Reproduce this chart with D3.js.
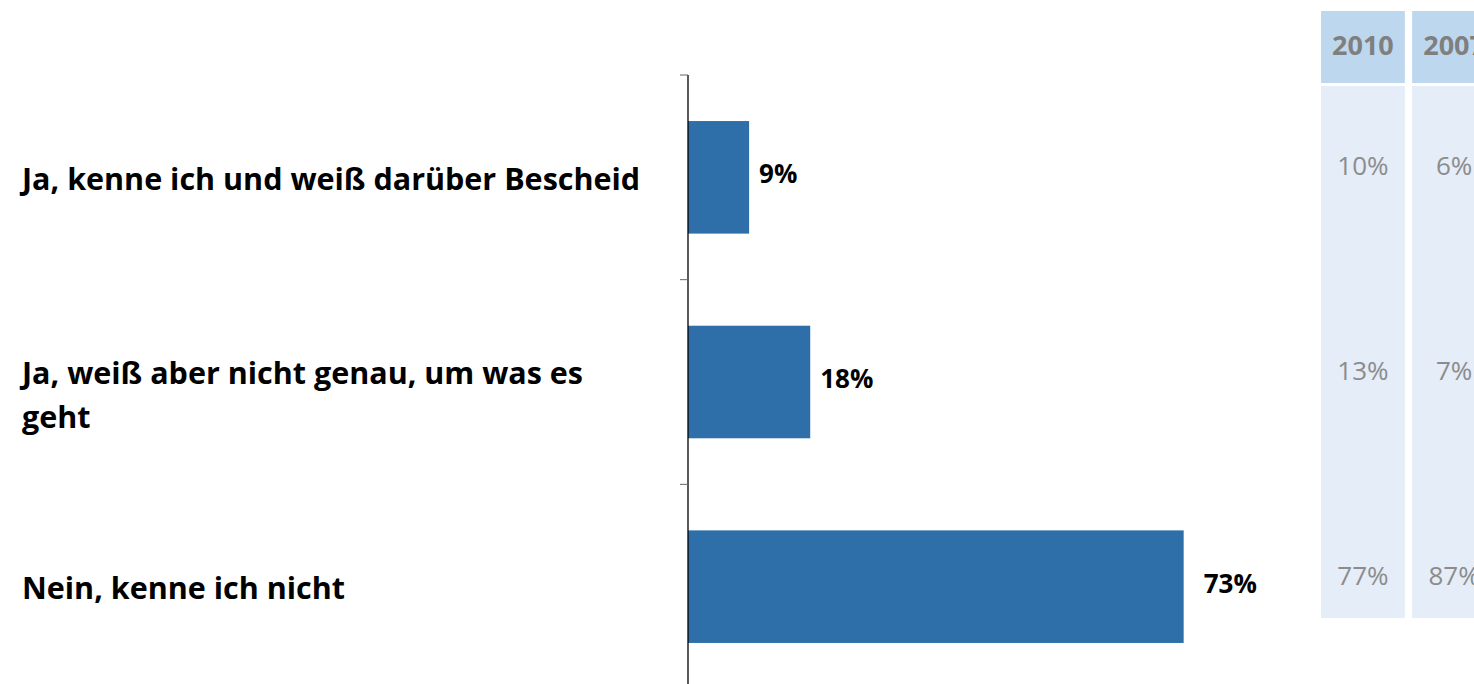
<!DOCTYPE html>
<html>
<head>
<meta charset="utf-8">
<script src="https://cdn.jsdelivr.net/npm/d3@7"></script>
<style>
  html, body { margin: 0; padding: 0; background: #fff; overflow: hidden; }
  svg { display: block; }
</style>
</head>
<body>
<svg id="chart" width="1474" height="684"></svg>
<script>
// Survey answers and their shares (current wave)
const categories = [
  "Ja, kenne ich und weiß darüber Bescheid",
  "Ja, weiß aber nicht genau, um was es geht",
  "Nein, kenne ich nicht"
];
// Wrapped label lines per category
const categoryLines = [
  ["Ja, kenne ich und weiß darüber Bescheid"],
  ["Ja, weiß aber nicht genau, um was es", "geht"],
  ["Nein, kenne ich nicht"]
];
const values = [9, 18, 73];

// Comparison table: earlier waves
const compareYears = ["2010", "2007"];
const compare2010 = ["10%", "13%", "77%"];
const compare2007 = ["6%", "7%", "87%"];

const svg = d3.select("#chart");
const fontFam = "'Open Sans', sans-serif";

const x = d3.scaleLinear().domain([0, 100]).range([688, 1367]);
const y = d3.scaleBand().domain(categories).range([75, 689]).paddingInner(0.45).paddingOuter(0.225);

// Bars
svg.append("g").selectAll("rect")
  .data(categories)
  .join("rect")
  .attr("x", x(0))
  .attr("y", d => y(d))
  .attr("width", (d, i) => x(values[i]) - x(0))
  .attr("height", y.bandwidth())
  .attr("fill", "#2E6FAA");

// Category axis (ticks between bands)
const bandStep = y.step();
const axisG = svg.append("g");
axisG.append("line")
  .attr("x1", x(0)).attr("x2", x(0))
  .attr("y1", 75).attr("y2", 684)
  .attr("stroke", "#000").attr("stroke-width", 1.3);
const tickYs = d3.range(categories.length).map(i => 75 + i * bandStep);
axisG.selectAll("line.tick")
  .data(tickYs)
  .join("line")
  .attr("class", "tick")
  .attr("x1", x(0) - 8).attr("x2", x(0))
  .attr("y1", d => d).attr("y2", d => d)
  .attr("stroke", "#666").attr("stroke-width", 1);

// Value labels
svg.append("g").selectAll("text")
  .data(categories)
  .join("text")
  .attr("x", (d, i) => x(values[i]) + (i === 2 ? 20 : 10))
  .attr("y", d => y(d) + y.bandwidth() / 2 - 3)
  .attr("dy", "0.35em")
  .attr("font-family", fontFam)
  .attr("font-weight", "bold")
  .attr("font-size", 26)
  .attr("fill", "#000")
  .text((d, i) => values[i] + "%");

// Category labels
const lineH = 44;
svg.append("g").selectAll("text")
  .data(categories)
  .join("text")
  .attr("font-family", fontFam)
  .attr("font-weight", "bold")
  .attr("font-size", 30.5)
  .attr("fill", "#000")
  .each(function(d, i) {
    const lines = categoryLines[i];
    const cy = y(d) + y.bandwidth() / 2;
    const sel = d3.select(this);
    lines.forEach((ln, k) => {
      sel.append("tspan")
        .attr("x", 22)
        .attr("y", cy + (k - (lines.length - 1) / 2) * lineH + (lines.length > 1 ? 13 : 2))
        .attr("dy", "0.35em")
        .text(ln);
    });
  });

// Comparison table
const colX = d3.scaleBand().domain(compareYears).range([1321, 1496]).paddingInner(0.08);
const colData = [compare2010, compare2007];
const tbl = svg.append("g");
tbl.selectAll("rect.head")
  .data(compareYears)
  .join("rect")
  .attr("class", "head")
  .attr("x", d => colX(d)).attr("y", 11)
  .attr("width", colX.bandwidth()).attr("height", 72)
  .attr("fill", "#BDD7EE");
tbl.selectAll("rect.body")
  .data(compareYears)
  .join("rect")
  .attr("class", "body")
  .attr("x", d => colX(d)).attr("y", 86)
  .attr("width", colX.bandwidth()).attr("height", 532)
  .attr("fill", "#E4EDF8");
tbl.selectAll("text.head")
  .data(compareYears)
  .join("text")
  .attr("class", "head")
  .attr("x", d => colX(d) + colX.bandwidth() / 2)
  .attr("y", 46).attr("dy", "0.35em")
  .attr("text-anchor", "middle")
  .attr("font-family", fontFam)
  .attr("font-weight", "bold")
  .attr("font-size", 27)
  .attr("fill", "#7F7F7F")
  .text(d => d);
compareYears.forEach((yr, c) => {
  tbl.selectAll("text.v" + c)
    .data(colData[c])
    .join("text")
    .attr("class", "v" + c)
    .attr("x", colX(yr) + colX.bandwidth() / 2)
    .attr("y", (d, i) => y(categories[i]) + y.bandwidth() / 2 - 11)
    .attr("dy", "0.35em")
    .attr("text-anchor", "middle")
    .attr("font-family", fontFam)
    .attr("font-size", 26)
    .attr("fill", "#8C8C8C")
    .text(d => d);
});
</script>
</body>
</html>
